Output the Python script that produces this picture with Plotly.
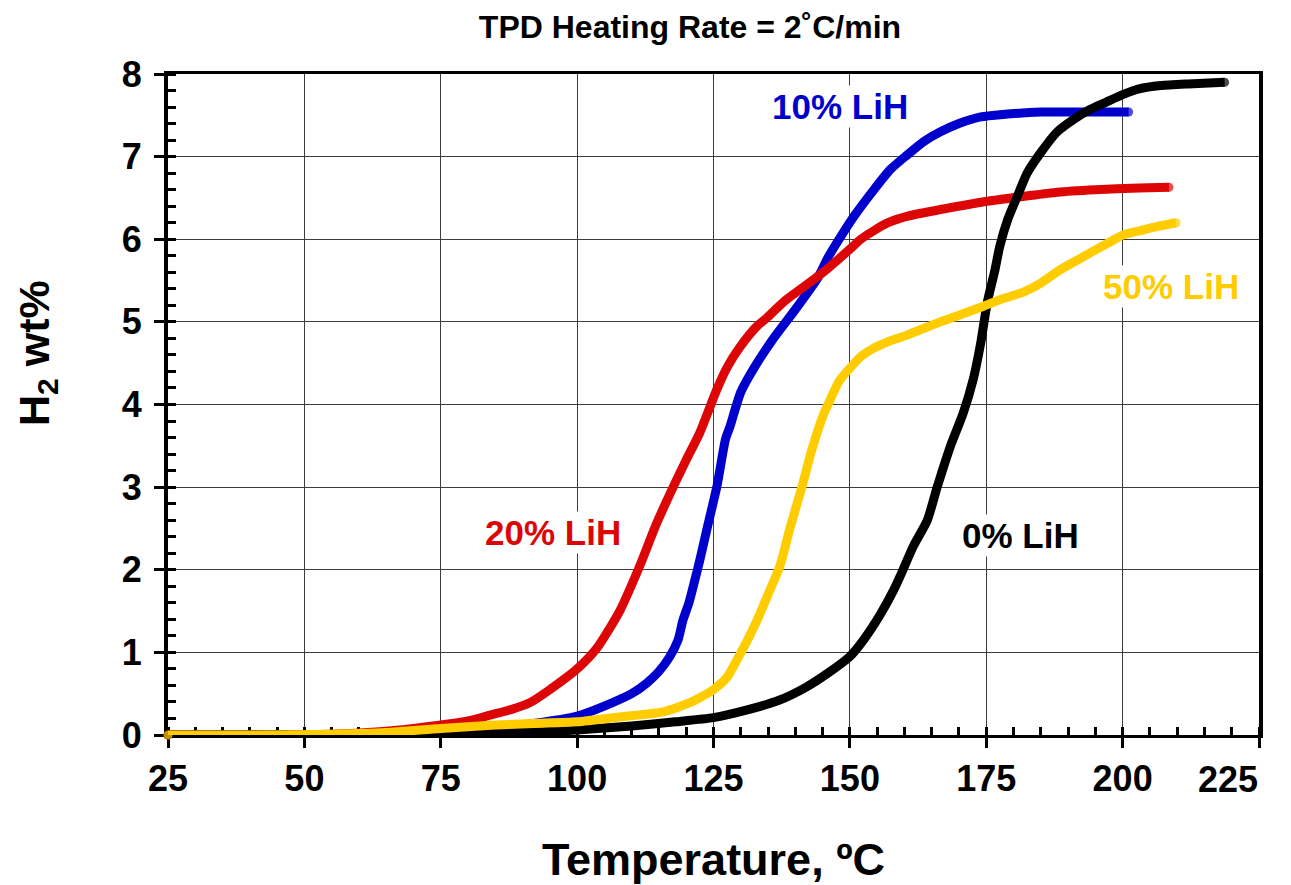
import plotly.graph_objects as go

# ---- data ----
t_0 = [25, 40, 55, 70, 80, 90, 100, 110, 118, 125, 131, 137, 142, 146, 150, 152.5, 155.5, 158,
       159.2, 161.6, 164.2, 166, 168.4, 170.8, 172.6, 174, 175.2, 176.5, 177.5, 179, 180.7, 182.5,
       185, 188, 191, 194, 197, 200, 203, 207, 212, 218.7]
w_0 = [0, 0, 0, 0.005, 0.015, 0.03, 0.06, 0.11, 0.16, 0.21, 0.3, 0.42, 0.58, 0.75, 0.95, 1.15, 1.45,
       1.75, 1.92, 2.28, 2.6, 3.0, 3.49, 3.9, 4.3, 4.75, 5.24, 5.6, 5.92, 6.25, 6.52, 6.8, 7.05, 7.3,
       7.45, 7.57, 7.66, 7.75, 7.82, 7.86, 7.88, 7.9]

t_10 = [25, 40, 55, 65, 75, 85, 92, 100, 106.4, 110, 112.8, 115, 117, 118.5, 119.4, 120.5, 121.6,
        122.5, 124, 125.6, 127.2, 128, 130, 132.5, 136, 140, 144, 146, 148.5, 151, 154.4, 157.5,
        160.5, 163.5, 166.6, 170, 174, 178, 185, 192, 201.1]
w_10 = [0, 0, 0.005, 0.01, 0.04, 0.09, 0.14, 0.23, 0.39, 0.5, 0.63, 0.77, 0.95, 1.15, 1.39, 1.6,
        1.88, 2.12, 2.55, 3.0, 3.58, 3.73, 4.15, 4.45, 4.8, 5.15, 5.52, 5.78, 6.05, 6.3, 6.6, 6.85,
        7.02, 7.18, 7.3, 7.4, 7.48, 7.51, 7.54, 7.54, 7.54]

t_20 = [25, 40, 55, 63.8, 70, 75, 80, 84, 88, 91.3, 95, 100, 103.6, 107.8, 111.5, 114.5, 117.6,
        120, 122.5, 125.6, 127.5, 129.9, 133, 134.8, 138, 142.1, 146, 150, 152, 154.3, 157, 160.6,
        166.6, 175.2, 182, 188, 195, 203, 208.5]
w_20 = [0, 0, 0.01, 0.04, 0.08, 0.12, 0.17, 0.24, 0.31, 0.39, 0.55, 0.8, 1.05, 1.5, 2.05, 2.55,
        3.0, 3.33, 3.66, 4.18, 4.45, 4.7, 4.95, 5.05, 5.25, 5.45, 5.65, 5.88, 6.0, 6.1, 6.2, 6.28,
        6.36, 6.46, 6.52, 6.57, 6.6, 6.62, 6.63]

t_50 = [25, 40, 55, 65, 75, 85, 92, 100, 108, 115.8, 121, 125, 127.5, 129.3, 131, 133, 135, 137.2,
        139, 141.2, 142.8, 144, 145.3, 146.4, 148, 150, 152, 154.3, 157, 160.5, 163.5, 166.6, 170,
        174.5, 177.6, 181.8, 185, 188.3, 191.5, 194.7, 197.5, 200, 203, 206, 209.8]
w_50 = [0, 0, 0.01, 0.03, 0.08, 0.12, 0.14, 0.16, 0.22, 0.28, 0.4, 0.55, 0.7, 0.91, 1.12, 1.39,
        1.7, 2.05, 2.5, 3.0, 3.4, 3.66, 3.9, 4.06, 4.28, 4.44, 4.58, 4.68, 4.76, 4.84, 4.92, 5.0,
        5.08, 5.19, 5.27, 5.36, 5.47, 5.62, 5.74, 5.86, 5.96, 6.05, 6.1, 6.15, 6.2]

x_tick_vals = [25, 50, 75, 100, 125, 150, 175, 200, 225]
x_tick_labels = ["25", "50", "75", "100", "125", "150", "175", "200", "225"]

series_names = ["0% LiH", "10% LiH", "20% LiH", "50% LiH"]
label_x = [181.2, 148.2, 95.5, 208.8]
label_y = [2.42, 7.61, 2.45, 5.43]

colors = {"0% LiH": "#000000", "10% LiH": "#0000CC", "20% LiH": "#DD0606", "50% LiH": "#FFCC00"}
data = {"0% LiH": (t_0, w_0), "10% LiH": (t_10, w_10), "20% LiH": (t_20, w_20), "50% LiH": (t_50, w_50)}

FONT = "Liberation Sans, Arial, sans-serif"
TICKFONT = dict(family=FONT, size=36, color="black", weight="bold")

# the last tick label sits inside the frame in the reference: draw it right-aligned to its tick
tick_text = list(x_tick_labels[:-1]) + [""]

fig = go.Figure()
for name in ["10% LiH", "20% LiH", "0% LiH", "50% LiH"]:
    x, y = data[name]
    n = len(x)
    sizes = [9] + [0] * (n - 2) + [9]
    fig.add_trace(go.Scatter(
        x=x, y=y, mode="lines+markers", name=name,
        line=dict(color=colors[name], width=9, shape="spline", smoothing=0.6),
        marker=dict(color=colors[name], size=sizes, line=dict(width=0)),
        cliponaxis=False, showlegend=False, hoverinfo="skip"))

for name, lx, ly in zip(series_names, label_x, label_y):
    fig.add_annotation(x=lx, y=ly, text=name, showarrow=False, bgcolor="white",
                       font=dict(family=FONT, size=35, color=colors[name], weight="bold"))

fig.add_annotation(x=x_tick_vals[-1], xref="x", y=(735 - 779) / 661, yref="paper",
                   text=x_tick_labels[-1], showarrow=False, xanchor="right", yanchor="middle",
                   borderpad=0, font=TICKFONT)

# y-axis title placed as annotation (it sits above the plot centre in the reference)
fig.add_annotation(xref="paper", yref="paper", x=(37 - 168) / 1091, y=(735 - 353) / 661,
                   text="H<sub>2</sub> wt%", textangle=-90, showarrow=False,
                   xanchor="center", yanchor="middle",
                   font=dict(family=FONT, size=43, color="black", weight="bold"))

# page body has an 8px margin, so the figure is sized/offset accordingly
fig.update_layout(
    width=1283, height=877,
    margin=dict(l=160, r=32, t=66, b=150, autoexpand=False),
    paper_bgcolor="white", plot_bgcolor="white",
    title=dict(text="TPD Heating Rate = 2˚C/min", x=682 / 1283, xref="container", xanchor="center",
               y=1 - 19 / 877, yref="container", yanchor="middle", automargin=False,
               font=dict(family=FONT, size=32, color="black", weight="bold")),
)

fig.update_xaxes(
    range=[25, 225], tickmode="array", tickvals=x_tick_vals, ticktext=tick_text,
    showgrid=True, gridcolor="#3c3c3c", gridwidth=1,
    showline=True, linecolor="black", linewidth=3, mirror=True,
    ticks="outside", ticklen=10, tickwidth=3, tickcolor="black",
    minor=dict(ticks="inside", tickmode="linear", tick0=25, dtick=5, ticklen=8, tickwidth=3,
               tickcolor="black", showgrid=False),
    tickfont=TICKFONT,
    title=dict(text="Temperature, ºC", standoff=46,
               font=dict(family=FONT, size=45, color="black", weight="bold")),
    zeroline=False, layer="below traces", automargin=False)

fig.update_yaxes(
    range=[0, 8], dtick=1, showgrid=True, gridcolor="#3c3c3c", gridwidth=1,
    showline=True, linecolor="black", linewidth=4, mirror=True,
    ticks="outside", ticklen=10, tickwidth=3, tickcolor="black", ticklabelstandoff=5,
    minor=dict(ticks="inside", dtick=0.2, ticklen=8, tickwidth=3, tickcolor="black", showgrid=False),
    tickfont=TICKFONT,
    zeroline=False, layer="below traces", automargin=False)

fig.write_html("out.html")
